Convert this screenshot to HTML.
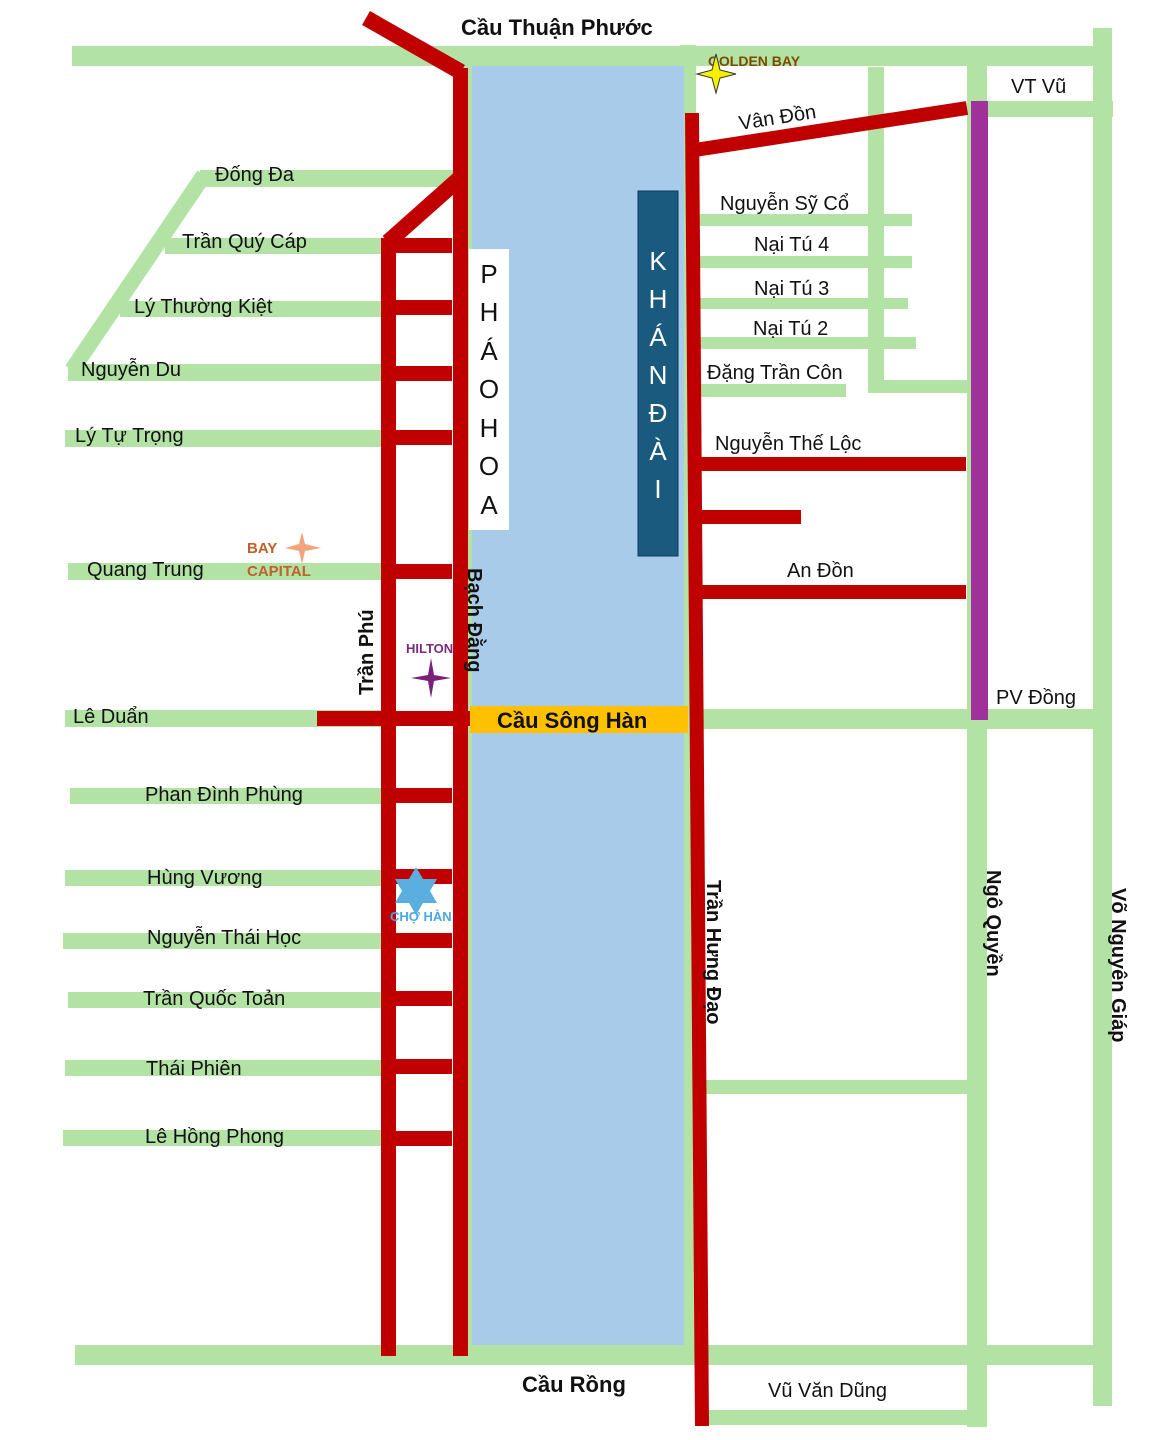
<!DOCTYPE html>
<html><head><meta charset="utf-8"><style>
html,body{margin:0;padding:0;background:#fff;}
svg{display:block;}
text{font-family:"Liberation Sans",sans-serif;fill:#111;}
.b{font-weight:bold;}
.w{fill:#fff;}
</style></head><body>
<svg width="1152" height="1440" viewBox="0 0 1152 1440" xmlns="http://www.w3.org/2000/svg">
<g fill="#b3e2a5">
<rect x="680" y="45" width="16" height="1320"/>
<rect x="462" y="65" width="10" height="1290"/>
<rect x="72" y="46" width="1040" height="20"/>
<rect x="1093" y="28" width="19" height="1378"/>
<rect x="967" y="65" width="20" height="1362"/>
<rect x="868" y="67" width="16" height="326"/>
<rect x="75" y="1345" width="1037" height="20"/>
<rect x="700" y="1410" width="287" height="15"/>
<rect x="985" y="101" width="128" height="16"/>
<rect x="700" y="1080" width="267" height="14"/>
<rect x="700" y="709" width="410" height="20"/>
<rect x="700" y="214" width="212" height="12"/>
<rect x="700" y="256" width="212" height="12"/>
<rect x="700" y="298" width="208" height="11"/>
<rect x="700" y="337" width="216" height="12"/>
<rect x="700" y="384" width="146" height="13"/>
<rect x="870" y="380" width="97" height="13"/>
<rect x="200" y="170" width="260" height="17"/>
<rect x="165" y="238" width="220" height="16"/>
<rect x="120" y="301" width="265" height="16"/>
<rect x="68" y="364" width="317" height="17"/>
<rect x="65" y="430" width="320" height="17"/>
<rect x="68" y="563" width="317" height="17"/>
<rect x="65" y="710" width="320" height="17"/>
<rect x="70" y="788" width="315" height="16"/>
<rect x="65" y="870" width="320" height="16"/>
<rect x="63" y="933" width="322" height="16"/>
<rect x="68" y="992" width="317" height="16"/>
<rect x="65" y="1060" width="320" height="16"/>
<rect x="63" y="1130" width="322" height="16"/>
</g>
<line x1="204" y1="175" x2="72" y2="370" stroke="#b3e2a5" stroke-width="16"/>
<rect x="472" y="66" width="212" height="1279" fill="#a8cbea"/>
<rect x="470" y="706" width="218" height="27" fill="#ffc000"/>
<g fill="#c00000">
<rect x="453" y="68" width="15" height="1288"/>
<rect x="381" y="238" width="15" height="1118"/>
<rect x="396" y="238" width="56" height="15"/>
<rect x="396" y="300" width="56" height="15"/>
<rect x="396" y="366" width="56" height="15"/>
<rect x="396" y="430" width="56" height="15"/>
<rect x="396" y="564" width="56" height="15"/>
<rect x="317" y="711" width="153" height="15"/>
<rect x="396" y="788" width="56" height="15"/>
<rect x="396" y="869" width="56" height="15"/>
<rect x="396" y="933" width="56" height="15"/>
<rect x="396" y="991" width="56" height="15"/>
<rect x="396" y="1059" width="56" height="15"/>
<rect x="396" y="1131" width="56" height="15"/>
<rect x="700" y="457" width="266" height="14"/>
<rect x="700" y="510" width="101" height="14"/>
<rect x="700" y="585" width="266" height="14"/>
</g>
<line x1="366" y1="18" x2="461" y2="72" stroke="#c00000" stroke-width="16"/>
<line x1="388" y1="242" x2="460" y2="178" stroke="#c00000" stroke-width="16"/>
<line x1="692" y1="113" x2="702" y2="1426" stroke="#c00000" stroke-width="14"/>
<line x1="695" y1="150" x2="967" y2="108" stroke="#c00000" stroke-width="14"/>
<rect x="971" y="101" width="17" height="619" fill="#a0309a"/>
<rect x="469" y="249" width="40" height="281" fill="#fff"/>
<rect x="638" y="191" width="40" height="365" fill="#1a5a7e" stroke="#0d3a55" stroke-width="1"/>
<g font-size="26" text-anchor="middle">
<text x="489" y="283">P</text><text x="489" y="321">H</text><text x="489" y="360">Á</text><text x="489" y="398">O</text><text x="489" y="437">H</text><text x="489" y="475">O</text><text x="489" y="514">A</text>
</g>
<g font-size="26" text-anchor="middle">
<text class="w" style="fill:#fff" x="658" y="270">K</text><text class="w" style="fill:#fff" x="658" y="308">H</text><text class="w" style="fill:#fff" x="658" y="346">Á</text><text class="w" style="fill:#fff" x="658" y="384">N</text><text class="w" style="fill:#fff" x="658" y="422">Đ</text><text class="w" style="fill:#fff" x="658" y="460">À</text><text class="w" style="fill:#fff" x="658" y="498">I</text>
</g>
<text x="461" y="35" font-size="22" class="b">Cầu Thuận Phước</text>
<text x="497" y="728" font-size="22" class="b">Cầu Sông Hàn</text>
<text x="522" y="1392" font-size="22" class="b">Cầu Rồng</text>
<g font-size="20">
<text x="215" y="181">Đống Đa</text>
<text x="182" y="248">Trần Quý Cáp</text>
<text x="134" y="313">Lý Thường Kiệt</text>
<text x="81" y="376">Nguyễn Du</text>
<text x="75" y="442">Lý Tự Trọng</text>
<text x="87" y="576">Quang Trung</text>
<text x="73" y="723">Lê Duẩn</text>
<text x="145" y="801">Phan Đình Phùng</text>
<text x="147" y="884">Hùng Vương</text>
<text x="147" y="944">Nguyễn Thái Học</text>
<text x="143" y="1005">Trần Quốc Toản</text>
<text x="146" y="1075">Thái Phiên</text>
<text x="145" y="1143">Lê Hồng Phong</text>
<text x="720" y="210">Nguyễn Sỹ Cổ</text>
<text x="754" y="251">Nại Tú 4</text>
<text x="754" y="295">Nại Tú 3</text>
<text x="753" y="335">Nại Tú 2</text>
<text x="707" y="379">Đặng Trần Côn</text>
<text x="715" y="450">Nguyễn Thế Lộc</text>
<text x="787" y="577">An Đồn</text>
<text x="1011" y="93">VT Vũ</text>
<text x="996" y="704">PV Đồng</text>
<text x="768" y="1397">Vũ Văn Dũng</text>
<text x="0" y="0" transform="translate(740,130) rotate(-9)">Vân Đồn</text>
</g>
<g font-size="20" class="b">
<text transform="translate(373,695) rotate(-90)">Trần Phú</text>
<text transform="translate(468,568) rotate(90)">Bạch Đằng</text>
<text transform="translate(707,880) rotate(90)">Trần Hưng Đạo</text>
<text transform="translate(987,870) rotate(90)">Ngô Quyền</text>
<text transform="translate(1112,888) rotate(90)">Võ Nguyên Giáp</text>
</g>
<text x="708" y="66" font-size="14" class="b" style="fill:#7a4a00">GOLDEN BAY</text>
<path d="M716 54 L720 70 L736 74 L720 78 L716 93 L712 78 L697 74 L712 70 Z" fill="#f5f000" stroke="#333" stroke-width="1"/>
<text x="247" y="553" font-size="15" class="b" style="fill:#c0602a">BAY</text>
<text x="247" y="576" font-size="15" class="b" style="fill:#c0602a">CAPITAL</text>
<path d="M302 532 L305 544 L321 548 L305 551 L302 564 L299 551 L285 548 L299 544 Z" fill="#f4a47c"/>
<text x="406" y="653" font-size="13" class="b" style="fill:#7a2a7a">HILTON</text>
<path d="M431 658 L434 675 L451 678 L434 681 L431 698 L428 681 L411 678 L428 675 Z" fill="#7a1f7a"/>
<path d="M416 877 L423 889 L437 889 L430 901 L437 913 L423 913 L416 925 L409 913 L395 913 L402 901 L395 889 L409 889 Z" fill="#5aaee0" transform="translate(0,-10)"/>
<text x="390" y="921" font-size="13" class="b" style="fill:#4aa8e0">CHỢ HÀN</text>
</svg>
</body></html>
